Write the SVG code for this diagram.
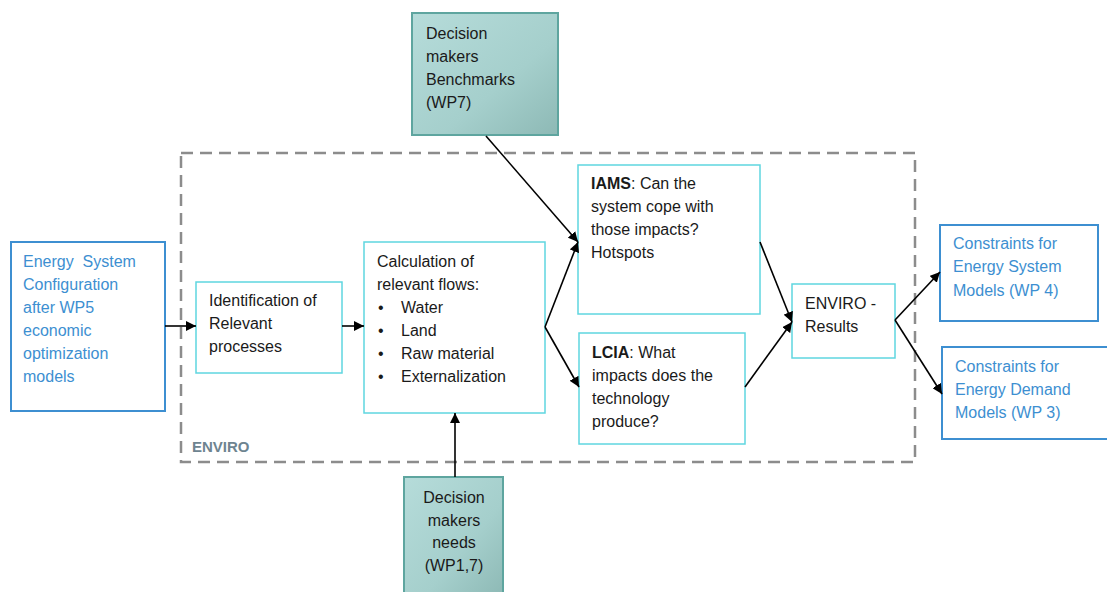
<svg xmlns="http://www.w3.org/2000/svg" width="1107" height="592" viewBox="0 0 1107 592">
<defs>
<linearGradient id="teal" x1="0" y1="0" x2="1" y2="1">
<stop offset="0" stop-color="#b6dcda"/>
<stop offset="0.6" stop-color="#a5cfcc"/>
<stop offset="1" stop-color="#8db9b5"/>
</linearGradient>
<marker id="ah" viewBox="0 0 10 10" refX="10" refY="5" markerWidth="10" markerHeight="10" markerUnits="userSpaceOnUse" orient="auto">
<path d="M0,0 L10,5 L0,10 z" fill="#000"/>
</marker>
<style>
text{font-family:"Liberation Sans",Arial,sans-serif;font-size:16px;fill:#1a1a1a}
.blue text,text.blue{fill:#3d8fd1}
.bbox{fill:#fff;stroke:#3d8fd1;stroke-width:2}
.cbox{fill:#fff;stroke:#5fd6e0;stroke-width:1.5}
.tbox{fill:url(#teal);stroke:#5ea59f;stroke-width:2}
.conn line{stroke:#000;stroke-width:1.6;marker-end:url(#ah)}
</style>
</defs>
<rect width="1107" height="592" fill="#fff"/>
<g id="enviro-frame">
<rect x="181" y="153" width="734" height="309" fill="none" stroke="#8c8c8c" stroke-width="2.5" stroke-dasharray="12,7"/>
<text x="192" y="452" style="font-weight:bold;fill:#6e8490;font-size:15px">ENVIRO</text>
</g>
<g id="energy-system" class="blue">
<rect class="bbox" x="11" y="242" width="154" height="169"/>
<text x="23" y="267" xml:space="preserve">Energy  System</text>
<text x="23" y="290">Configuration</text>
<text x="23" y="313">after WP5</text>
<text x="23" y="336">economic</text>
<text x="23" y="359">optimization</text>
<text x="23" y="382">models</text>
</g>
<g id="identification">
<rect class="cbox" x="196" y="282" width="146" height="91"/>
<text x="209" y="306">Identification of</text>
<text x="209" y="329">Relevant</text>
<text x="209" y="352">processes</text>
</g>
<g id="calculation">
<rect class="cbox" x="364" y="242" width="181" height="171"/>
<text x="377" y="267">Calculation of</text>
<text x="377" y="290">relevant flows:</text>
<text x="378" y="313">•</text><text x="401" y="313">Water</text>
<text x="378" y="336">•</text><text x="401" y="336">Land</text>
<text x="378" y="359">•</text><text x="401" y="359">Raw material</text>
<text x="378" y="382">•</text><text x="401" y="382">Externalization</text>
</g>
<g id="iams">
<rect class="cbox" x="578" y="165" width="182" height="149"/>
<text x="591" y="189"><tspan font-weight="bold">IAMS</tspan>: Can the</text>
<text x="591" y="212">system cope with</text>
<text x="591" y="235">those impacts?</text>
<text x="591" y="258">Hotspots</text>
</g>
<g id="lcia">
<rect class="cbox" x="579" y="333" width="166" height="111"/>
<text x="592" y="358"><tspan font-weight="bold">LCIA</tspan>: What</text>
<text x="592" y="381">impacts does the</text>
<text x="592" y="404">technology</text>
<text x="592" y="427">produce?</text>
</g>
<g id="enviro-results">
<rect class="cbox" x="792" y="284" width="103" height="74"/>
<text x="805" y="309">ENVIRO -</text>
<text x="805" y="332">Results</text>
</g>
<g id="constraints-system" class="blue">
<rect class="bbox" x="940" y="225" width="158" height="96"/>
<text x="953" y="249">Constraints for</text>
<text x="953" y="272">Energy System</text>
<text x="953" y="296">Models (WP 4)</text>
</g>
<g id="constraints-demand" class="blue">
<rect class="bbox" x="942" y="347" width="170" height="92"/>
<text x="955" y="372">Constraints for</text>
<text x="955" y="395">Energy Demand</text>
<text x="955" y="418">Models (WP 3)</text>
</g>
<g id="benchmarks">
<rect class="tbox" x="412" y="13" width="146" height="122"/>
<text x="426" y="39">Decision</text>
<text x="426" y="62">makers</text>
<text x="426" y="85">Benchmarks</text>
<text x="426" y="108">(WP7)</text>
</g>
<g id="needs">
<rect class="tbox" x="404" y="477" width="99" height="120"/>
<text x="454" y="503" text-anchor="middle">Decision</text>
<text x="454" y="526" text-anchor="middle">makers</text>
<text x="454" y="548" text-anchor="middle">needs</text>
<text x="454" y="571" text-anchor="middle">(WP1,7)</text>
</g>
<g id="connectors" class="conn">
<line x1="165" y1="326" x2="196" y2="326"/>
<line x1="342" y1="326" x2="364" y2="326"/>
<line x1="486" y1="136" x2="578" y2="242"/>
<line x1="545" y1="327" x2="578" y2="242"/>
<line x1="545" y1="327" x2="579" y2="387"/>
<line x1="760" y1="242" x2="792" y2="322"/>
<line x1="745" y1="387" x2="792" y2="322"/>
<line x1="895" y1="320" x2="940" y2="272"/>
<line x1="895" y1="320" x2="942" y2="394"/>
<line x1="455" y1="477" x2="455" y2="413"/>
</g>
</svg>
